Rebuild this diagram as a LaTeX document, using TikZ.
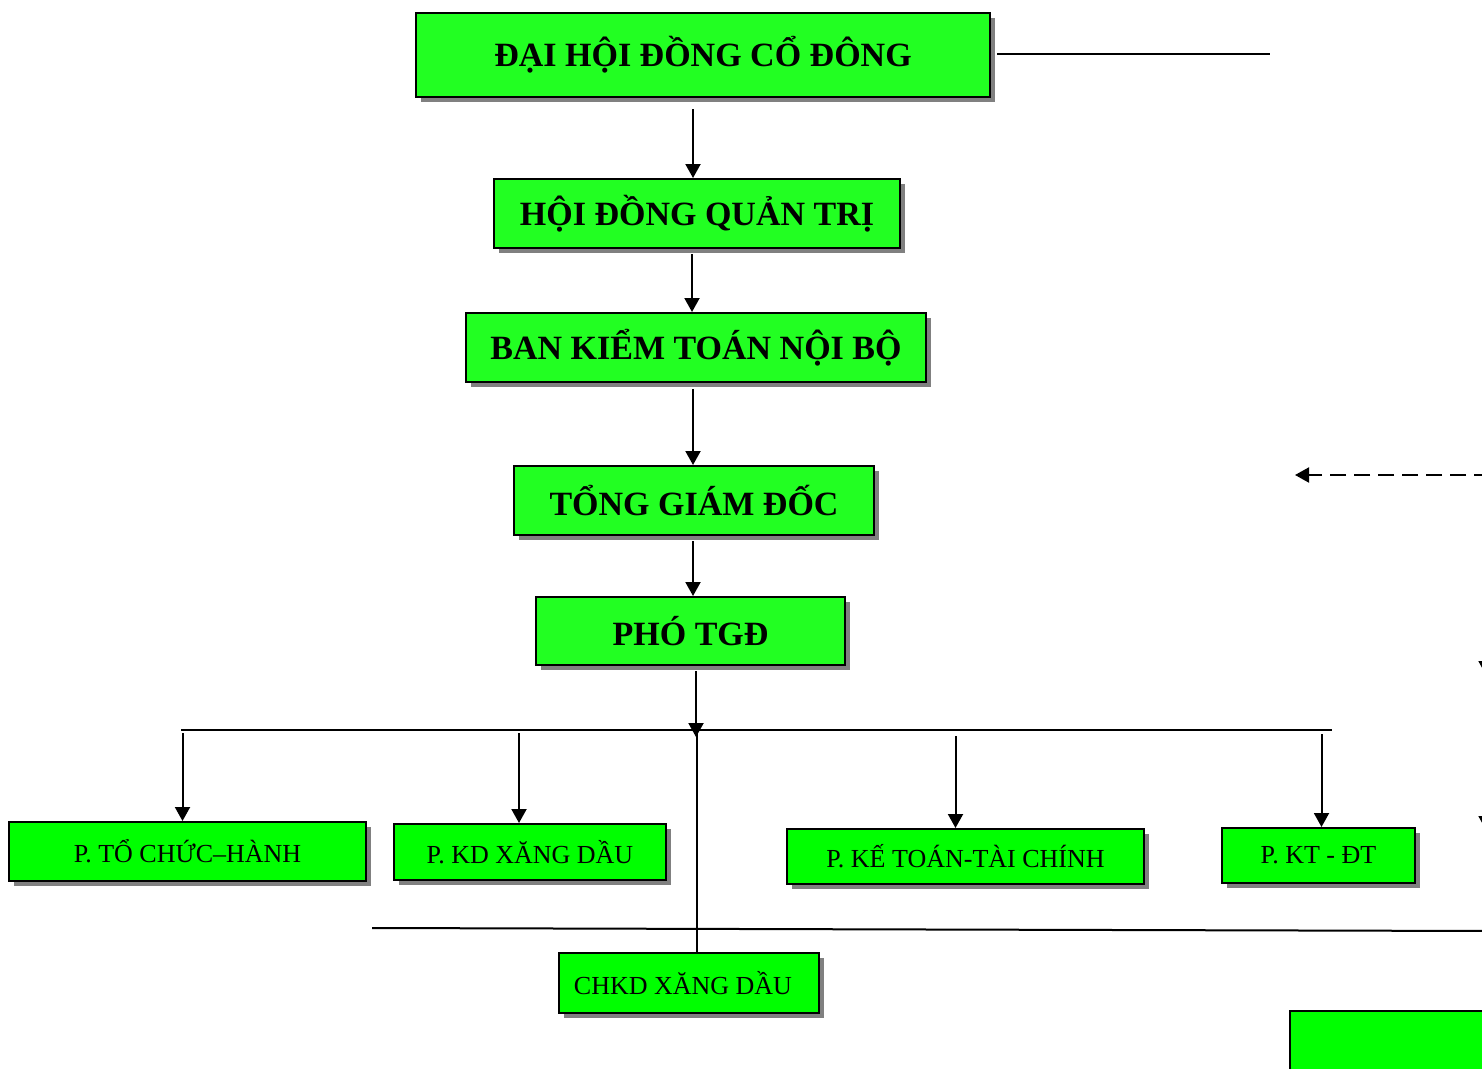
\documentclass[tikz,border=0pt]{standalone}
\usepackage{fontspec}
\setmainfont{Liberation Serif}
\usetikzlibrary{arrows.meta,shadows,calc}
\definecolor{topgreen}{RGB}{34,255,34}
\definecolor{deptgreen}{RGB}{0,255,0}

\begin{document}
\begin{tikzpicture}[x=1pt,y=-1pt,
  boxtop/.style={draw=black,line width=2pt,fill=topgreen,inner sep=0pt,
    drop shadow={shadow xshift=5pt,shadow yshift=-5pt,fill=gray,opacity=1},
    font=\fontsize{34}{40}\selectfont\bfseries},
  boxdept/.style={boxtop,fill=deptgreen,font=\fontsize{26}{30}\selectfont},
  arr/.style={line width=2pt,-{Triangle[width=15pt,length=14pt]}},
  ln/.style={line width=2pt}]
  \useasboundingbox (0,0) rectangle (1482,1068);

  \node[boxtop,minimum width=574pt,minimum height=84pt] (dhdcd) at (703,55) {\raisebox{3pt}{ĐẠI HỘI ĐỒNG CỔ ĐÔNG}};
  \node[boxtop,minimum width=406pt,minimum height=69pt] (hdqt) at (697,213.5) {HỘI ĐỒNG QUẢN TRỊ};
  \node[boxtop,minimum width=460pt,minimum height=69pt] (bktnb) at (696,347.5) {BAN KIỂM TOÁN NỘI BỘ};
  \node[boxtop,minimum width=360pt,minimum height=69pt] (tgd) at (694,500.5) {TỔNG GIÁM ĐỐC};
  \node[boxtop,minimum width=309pt,minimum height=68pt] (pho) at (690.5,631) {PHÓ TGĐ};

  \node[boxdept,minimum width=357pt,minimum height=59pt] (ptch) at (187.5,851.5) {\raisebox{-3pt}{P. TỔ CHỨC–HÀNH}};
  \node[boxdept,minimum width=272pt,minimum height=56pt] (pkd) at (530,852) {P. KD XĂNG DẦU};
  \node[boxdept,minimum width=357pt,minimum height=55pt] (pktc) at (965.5,856.5) {P. KẾ TOÁN-TÀI CHÍNH};
  \node[boxdept,minimum width=193pt,minimum height=55pt] (pktdt) at (1318.5,855.5) {P. KT - ĐT};
  \node[boxdept,minimum width=260pt,minimum height=60pt] (chkd) at (689,983) {\hspace*{-12pt}CHKD XĂNG DẦU};
  \node[boxdept,minimum width=220pt,minimum height=78pt] (pright) at (1400,1050) {};

  \coordinate (topR) at (1270,54);
  \coordinate (busL) at (181,730);
  \coordinate (busR) at (1332,730);
  \coordinate (busM) at (697,730);
  \coordinate (lowL) at (372,928);
  \coordinate (lowR) at (1490,931);
  \coordinate (dashR) at (1490,475);
  \coordinate (dashL) at (1295,475);
  \coordinate (edgeA) at (1486,600);
  \coordinate (edgeB) at (1486,760);

  \draw[ln] ([xshift=6pt]dhdcd.east |- topR) -- (topR);
  \draw[arr,shorten <=11pt] (dhdcd.south -| 693,0) -- (hdqt.north -| 693,0);
  \draw[arr,shorten <=5pt] (hdqt.south -| 692,0) -- (bktnb.north -| 692,0);
  \draw[arr] ([yshift=-6pt]bktnb.south -| 693,0) -- (tgd.north -| 693,0);
  \draw[arr] ([yshift=-5pt]tgd.south -| 693,0) -- (pho.north -| 693,0);
  \draw[arr,shorten <=5pt,shorten >=-7pt] (pho.south -| 696,0) -- (busM -| 696,0);

  \draw[ln] (busL) -- (busR);
  \draw[arr,shorten <=3pt] (busL -| ptch.north) ++(-5,0) -- ([xshift=-5pt]ptch.north);
  \draw[arr,shorten <=3pt] (busL -| pkd.north) ++(-11,0) -- ([xshift=-11pt]pkd.north);
  \draw[arr,shorten <=6pt] (busL -| pktc.north) ++(-10,0) -- ([xshift=-10pt]pktc.north);
  \draw[arr,shorten <=4pt] (busL -| pktdt.north) ++(3,0) -- ([xshift=3pt]pktdt.north);
  \draw[ln] (busM) -- (busM |- chkd.north);

  \draw[ln] (lowL) -- (lowR);
  \draw[arr,dashed,dash pattern=on 16pt off 8pt] (dashR) -- (dashL);
  \draw[arr] (edgeA) -- ++(0,75);
  \draw[arr] (edgeB) -- ++(0,70);
\end{tikzpicture}
\end{document}
